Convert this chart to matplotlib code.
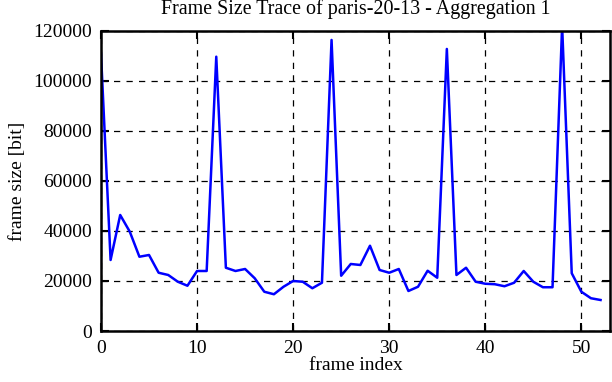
import numpy as np
import matplotlib.pyplot as plt

frame_index = np.arange(53)
frame_size = [111000, 28400, 46400, 39700, 29700, 30400, 23300, 22400, 19700, 18100,
              24000, 24000, 109700, 25300, 24000, 24800, 21100, 15700, 14700, 17700,
              20000, 19700, 17100, 19300, 116400, 22100, 26800, 26400, 34100, 24400,
              23300, 24800, 16000, 17700, 24100, 21300, 112800, 22400, 25300, 19700,
              18900, 18700, 17900, 19300, 24000, 19700, 17500, 17500, 122000, 23100,
              15700, 13100, 12400]
x_ticks = [0, 10, 20, 30, 40, 50]
y_ticks = [0, 20000, 40000, 60000, 80000, 100000, 120000]

plt.rcParams['font.family'] = ['Liberation Serif', 'DejaVu Serif']
plt.rcParams['font.size'] = 14

fig = plt.figure(figsize=(6.12, 3.82), dpi=100)
ax = fig.add_axes([0.165, 0.1335, 0.832, 0.7855])

ax.plot(frame_index, frame_size, color='#0000ff', linewidth=1.8)

ax.set_xlim(0, 53)
ax.set_ylim(0, 120000)
ax.set_xticks(x_ticks)
ax.set_yticks(y_ticks)
ax.set_yticklabels([str(v) for v in y_ticks])
ax.tick_params(direction='in', length=6, width=1.5, top=True, right=True, pad=6.5)
ax.grid(True, color='black', linestyle=(0, (5, 5)), linewidth=0.9)
for s in ax.spines.values():
    s.set_linewidth(1.8)

ax.set_title('Frame Size Trace of paris-20-13 - Aggregation 1', fontsize=14.4, pad=12)
ax.set_xlabel('frame index', labelpad=0)
ax.set_ylabel('frame size [bit]', labelpad=5)

fig.savefig('out.png', dpi=100)
